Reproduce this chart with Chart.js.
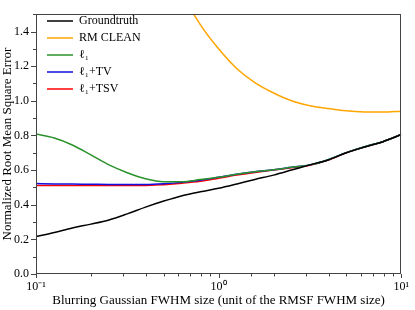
<!DOCTYPE html>
<html>
<head>
<meta charset="utf-8">
<script src="https://cdn.jsdelivr.net/npm/chart.js@4/dist/chart.umd.min.js"></script>
<style>
html,body{margin:0;padding:0;background:#fff;}
canvas{display:block;}
</style>
</head>
<body>
<canvas id="c" width="415" height="310"></canvas>
<script>
// x positions (blurring Gaussian FWHM size)
const xValues = [0.1, 0.126, 0.158, 0.2, 0.251, 0.316, 0.398, 0.501, 0.631, 0.794, 1, 1.26, 1.58, 2, 2.51, 3.16, 3.98, 5.01, 6.31, 7.94, 10];
const groundtruth = [0.216, 0.24, 0.266, 0.288, 0.312, 0.347, 0.386, 0.421, 0.452, 0.475, 0.495, 0.52, 0.546, 0.571, 0.6, 0.63, 0.658, 0.7, 0.733, 0.764, 0.805];
const rmClean = [null, null, null, null, null, null, null, 1.85, 1.62, 1.44, 1.30, 1.185, 1.105, 1.045, 1.0, 0.972, 0.955, 0.942, 0.936, 0.935, 0.94];
const l1 = [0.808, 0.785, 0.745, 0.688, 0.63, 0.585, 0.55, 0.533, 0.533, 0.545, 0.558, 0.576, 0.59, 0.602, 0.616, 0.63, 0.66, 0.701, 0.735, 0.764, 0.805];
const l1tv = [0.522, 0.52, 0.519, 0.518, 0.517, 0.517, 0.517, 0.521, 0.529, 0.541, 0.558, 0.576, 0.59, 0.602, 0.616, 0.63, 0.66, 0.701, 0.735, 0.764, 0.805];
const l1tsv = [0.511, 0.511, 0.511, 0.511, 0.511, 0.511, 0.511, 0.516, 0.524, 0.535, 0.553, 0.571, 0.586, 0.6, 0.614, 0.628, 0.658, 0.7, 0.734, 0.764, 0.805];
const seriesNames = ['Groundtruth', 'RM CLEAN', 'ℓ₁', 'ℓ₁+TV', 'ℓ₁+TSV'];
const seriesColors = ['#000000', '#ffa500', '#2a922a', '#1010e0', '#ff0000'];
const seriesValues = [groundtruth, rmClean, l1, l1tv, l1tsv];
const xTickLabels = {'0.1': '10⁻¹', '1': '10⁰', '10': '10¹'};
const yLabelledTicks = [0, 0.2, 0.4, 0.6, 0.8, 1.0, 1.2, 1.4];

const SERIF = "'Liberation Serif', 'Times New Roman', serif";

const datasets = seriesValues.map((vals, i) => ({
  label: seriesNames[i],
  data: xValues.map((x, j) => ({x: x, y: vals[j]})),
  borderColor: seriesColors[i],
  backgroundColor: seriesColors[i],
  borderWidth: 1.5,
  pointRadius: 0,
  cubicInterpolationMode: 'monotone',
  spanGaps: false
}));

const frameTicks = {
  id: 'frameTicks',
  afterLayout(chart) {
    // nudge the in-plot legend away from the frame corner
    if (chart.legend) { chart.legend.left += 6; chart.legend.top += 10; }
  },
  afterDraw(chart) {
    const {ctx, chartArea: a, scales: {x, y}} = chart;
    ctx.save();
    ctx.strokeStyle = '#444';
    ctx.lineWidth = 1;
    ctx.strokeRect(Math.round(a.left) + 0.5, Math.round(a.top) + 0.5,
      Math.round(a.right - a.left) - 1, Math.round(a.bottom - a.top) - 1);
    ctx.beginPath();
    x.ticks.forEach(t => {
      const lg = Math.log10(t.value);
      const major = Math.abs(lg - Math.round(lg)) < 1e-6;
      const px = Math.round(x.getPixelForValue(t.value)) + 0.5;
      const len = major ? 4 : 2.5;
      ctx.moveTo(px, a.bottom);
      ctx.lineTo(px, a.bottom + len);
    });
    y.ticks.forEach(t => {
      const major = Math.round(t.value * 10) % 2 === 0;
      const py = Math.round(y.getPixelForValue(t.value)) + 0.5;
      const len = major ? 5 : 3;
      ctx.moveTo(a.left - len, py);
      ctx.lineTo(a.left, py);
    });
    ctx.stroke();
    ctx.restore();
  }
};

new Chart(document.getElementById('c'), {
  type: 'line',
  data: {datasets},
  options: {
    responsive: false,
    animation: false,
    layout: {padding: {top: 4, right: 9, left: 0, bottom: 0}},
    plugins: {
      tooltip: {enabled: false},
      legend: {
        position: 'chartArea',
        align: 'start',
        labels: {
          usePointStyle: true,
          pointStyle: 'line',
          pointStyleWidth: 26,
          boxHeight: 12,
          padding: 5,
          color: '#000',
          font: {family: SERIF, size: 12}
        }
      }
    },
    scales: {
      x: {
        type: 'logarithmic',
        min: 0.1, max: 10,
        grid: {display: false, drawTicks: false},
        border: {display: false},
        ticks: {
          autoSkip: false, maxRotation: 0, padding: 6,
          color: '#000', font: {family: SERIF, size: 12},
          callback: (v) => xTickLabels[String(+v.toPrecision(3))] || ''
        },
        title: {display: true, text: 'Blurring Gaussian FWHM size (unit of the RMSF FWHM size)',
          color: '#000', font: {family: SERIF, size: 13}, padding: {top: 0, bottom: 2}},
        afterFit: (s) => { s.height = 36; }
      },
      y: {
        min: 0, max: 1.5,
        grid: {display: false, drawTicks: false},
        border: {display: false},
        ticks: {
          stepSize: 0.1, padding: 7, autoSkip: false,
          color: '#000', font: {family: SERIF, size: 12},
          callback: (v) => yLabelledTicks.some(t => Math.abs(t - v) < 1e-6) ? v.toFixed(1) : ''
        },
        title: {display: true, text: 'Normalized Root Mean Square Error',
          color: '#000', font: {family: SERIF, size: 13}, padding: {top: 0, bottom: 0}},
        afterFit: (s) => { s.width = 36; }
      }
    }
  },
  plugins: [frameTicks]
});
</script>
</body>
</html>
